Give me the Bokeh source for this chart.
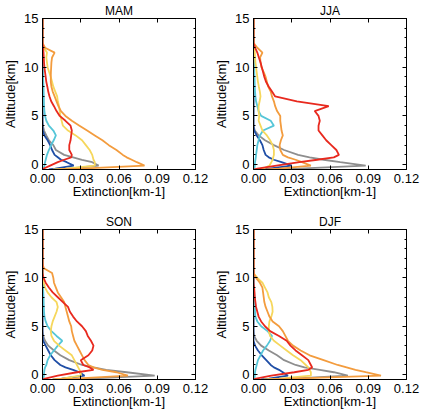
from bokeh.plotting import figure
from bokeh.layouts import gridplot
from bokeh.models import LinearAxis, FixedTicker, Range1d, NumeralTickFormatter, CustomJSTickFormatter
from bokeh.embed import file_html
from bokeh.resources import INLINE

# Altitude levels (km) shared by every profile
ALT = [-0.5, -0.4, -0.1, 0.25, 0.5, 0.75, 1.0, 1.5, 2.0, 2.5, 3.0, 3.5, 4.0, 4.5,
       5.0, 5.5, 6.0, 6.5, 7.0, 7.5, 8.0, 8.5, 9.0, 9.5, 10.0, 10.5, 11.0, 11.5,
       12.0, 12.5, 13.0, 13.5, 14.0, 14.5, 15.0]

SEASONS = ["MAM", "JJA", "SON", "DJF"]
X_TICKS = [0.0, 0.03, 0.06, 0.09, 0.12]
Y_TICKS = [0, 5, 10, 15]
Y_MINOR = [0, 1, 2, 3, 4, 5, 6, 7, 8, 9, 10, 11, 12, 13, 14, 15]

# Extinction profiles (km-1), one list per colour and season
MAM_GRAY = [0.010, 0.020, 0.044, 0.039, 0.031, 0.024, 0.017, 0.0105, 0.0085, 0.005, 0.003, 0.0012, 0.0003, 0.0,
            0.0, 0.0, 0.0, 0.0, 0.0, 0.0, 0.0, 0.0, 0.0, 0.0, 0.0, 0.0, 0.0, 0.0, 0.0, 0.0, 0.0, 0.0, 0.0, 0.0, 0.0]
MAM_BLUE = [0.005, 0.010, 0.0245, 0.019, 0.0145, 0.012, 0.0095, 0.0075, 0.006, 0.004, 0.0015, 0.0002, 0.0, 0.0,
            0.0, 0.0, 0.0, 0.0, 0.0, 0.0, 0.0, 0.0, 0.0, 0.0, 0.0, 0.0, 0.0, 0.0, 0.0, 0.0, 0.0, 0.0, 0.0, 0.0, 0.0]
MAM_CYAN = [0.0005, 0.001, 0.0015, 0.002, 0.0025, 0.003, 0.0035, 0.005, 0.0068, 0.0088, 0.0105, 0.0085, 0.005, 0.003,
            0.002, 0.0015, 0.0012, 0.0011, 0.001, 0.0009, 0.0008, 0.0006, 0.0005, 0.0002, 0.0, 0.0, 0.0, 0.0,
            0.0, 0.0, 0.0, 0.0, 0.0, 0.0, 0.0]
MAM_YELLOW = [0.008, 0.018, 0.041, 0.041, 0.040, 0.0395, 0.039, 0.037, 0.034, 0.031, 0.026, 0.020, 0.016, 0.015,
              0.014, 0.0135, 0.013, 0.012, 0.0115, 0.010, 0.0085, 0.0075, 0.0065, 0.0052, 0.004, 0.0035, 0.003, 0.0035,
              0.001, 0.0, 0.0, 0.0, 0.0, 0.0, 0.0]
MAM_ORANGE = [0.012, 0.030, 0.080, 0.074, 0.070, 0.066, 0.063, 0.058, 0.052, 0.047, 0.041, 0.035, 0.029, 0.023,
              0.018, 0.0145, 0.0125, 0.011, 0.0095, 0.008, 0.007, 0.0065, 0.0065, 0.0066, 0.0068, 0.007, 0.0075, 0.0095,
              0.002, 0.0, 0.0, 0.0, 0.0, 0.0, 0.0]
MAM_RED = [0.0, 0.001, 0.006, 0.012, 0.017, 0.0225, 0.023, 0.021, 0.021, 0.022, 0.0225, 0.023, 0.022, 0.018,
           0.0135, 0.011, 0.009, 0.0068, 0.0055, 0.0045, 0.0038, 0.003, 0.0025, 0.002, 0.0015, 0.0012, 0.001, 0.0008,
           0.0005, 0.0, 0.0, 0.0, 0.0, 0.0, 0.0]

JJA_GRAY = [0.015, 0.035, 0.088, 0.068, 0.055, 0.044, 0.035, 0.024, 0.016, 0.009, 0.004, 0.001, 0.0, 0.0,
            0.0, 0.0, 0.0, 0.0, 0.0, 0.0, 0.0, 0.0, 0.0, 0.0, 0.0, 0.0, 0.0, 0.0, 0.0, 0.0, 0.0, 0.0, 0.0, 0.0, 0.0]
JJA_BLUE = [0.006, 0.012, 0.030, 0.022, 0.016, 0.012, 0.0095, 0.008, 0.007, 0.005, 0.0025, 0.0005, 0.0, 0.0,
            0.0, 0.0, 0.0, 0.0, 0.0, 0.0, 0.0, 0.0, 0.0, 0.0, 0.0, 0.0, 0.0, 0.0, 0.0, 0.0, 0.0, 0.0, 0.0, 0.0, 0.0]
JJA_CYAN = [0.0005, 0.0008, 0.001, 0.0012, 0.0015, 0.0018, 0.002, 0.0025, 0.003, 0.004, 0.005, 0.0075, 0.016, 0.0135,
            0.006, 0.004, 0.003, 0.002, 0.0015, 0.0012, 0.001, 0.0009, 0.0008, 0.0006, 0.0005, 0.0003, 0.0001, 0.0,
            0.0, 0.0, 0.0, 0.0, 0.0, 0.0, 0.0]
JJA_YELLOW = [0.004, 0.008, 0.0125, 0.014, 0.015, 0.0155, 0.016, 0.016, 0.015, 0.013, 0.0105, 0.007, 0.0055, 0.004,
              0.0045, 0.004, 0.004, 0.0048, 0.0055, 0.005, 0.0042, 0.0035, 0.003, 0.0025, 0.002, 0.0015, 0.0012, 0.001,
              0.0003, 0.0, 0.0, 0.0, 0.0, 0.0, 0.0]
JJA_ORANGE = [0.010, 0.020, 0.045, 0.038, 0.033, 0.027, 0.023, 0.021, 0.0205, 0.0215, 0.023, 0.022, 0.0215, 0.021,
              0.021, 0.0185, 0.017, 0.016, 0.0145, 0.0135, 0.0115, 0.0105, 0.0095, 0.008, 0.0062, 0.0055, 0.0052, 0.007,
              0.003, 0.0, 0.0, 0.0, 0.0, 0.0, 0.0]
JJA_RED = [0.0, 0.003, 0.018, 0.036, 0.050, 0.063, 0.067, 0.065, 0.061, 0.057, 0.054, 0.051, 0.051, 0.052,
           0.051, 0.048, 0.059, 0.034, 0.017, 0.0145, 0.012, 0.0098, 0.0085, 0.0075, 0.0065, 0.0055, 0.0042, 0.003,
           0.0012, 0.0, 0.0, 0.0, 0.0, 0.0, 0.0]

SON_GRAY = [0.012, 0.035, 0.088, 0.066, 0.050, 0.040, 0.031, 0.021, 0.014, 0.009, 0.0045, 0.002, 0.0005, 0.0,
            0.0, 0.0, 0.0, 0.0, 0.0, 0.0, 0.0, 0.0, 0.0, 0.0, 0.0, 0.0, 0.0, 0.0, 0.0, 0.0, 0.0, 0.0, 0.0, 0.0, 0.0]
SON_BLUE = [0.008, 0.015, 0.033, 0.029, 0.024, 0.018, 0.014, 0.0095, 0.0065, 0.0045, 0.0025, 0.0005, 0.0, 0.0,
            0.0, 0.0, 0.0, 0.0, 0.0, 0.0, 0.0, 0.0, 0.0, 0.0, 0.0, 0.0, 0.0, 0.0, 0.0, 0.0, 0.0, 0.0, 0.0, 0.0, 0.0]
SON_CYAN = [0.0005, 0.0008, 0.001, 0.0013, 0.0015, 0.002, 0.003, 0.004, 0.006, 0.009, 0.012, 0.0155, 0.011, 0.007,
            0.004, 0.0025, 0.0015, 0.0012, 0.001, 0.0009, 0.0008, 0.0006, 0.0005, 0.0003, 0.0002, 0.0, 0.0, 0.0,
            0.0, 0.0, 0.0, 0.0, 0.0, 0.0, 0.0]
SON_YELLOW = [0.008, 0.015, 0.030, 0.030, 0.029, 0.028, 0.027, 0.025, 0.023, 0.018, 0.013, 0.009, 0.007, 0.0065,
              0.007, 0.008, 0.0095, 0.011, 0.012, 0.011, 0.007, 0.004, 0.002, 0.001, 0.0005, 0.0, 0.0, 0.0,
              0.0, 0.0, 0.0, 0.0, 0.0, 0.0, 0.0]
SON_ORANGE = [0.010, 0.025, 0.067, 0.058, 0.047, 0.040, 0.036, 0.033, 0.031, 0.029, 0.027, 0.025, 0.024, 0.023,
              0.0225, 0.021, 0.020, 0.019, 0.018, 0.017, 0.0145, 0.012, 0.0105, 0.009, 0.0085, 0.0075, 0.001, 0.0,
              0.0, 0.0, 0.0, 0.0, 0.0, 0.0, 0.0]
SON_RED = [0.0, 0.002, 0.012, 0.027, 0.040, 0.037, 0.032, 0.030, 0.036, 0.039, 0.040, 0.038, 0.0355, 0.034,
           0.031, 0.027, 0.024, 0.0215, 0.020, 0.016, 0.012, 0.008, 0.005, 0.0025, 0.0008, 0.0, 0.0, 0.0,
           0.0, 0.0, 0.0, 0.0, 0.0, 0.0, 0.0]

DJF_GRAY = [0.010, 0.030, 0.074, 0.063, 0.052, 0.040, 0.033, 0.024, 0.0185, 0.012, 0.006, 0.0025, 0.0005, 0.0,
            0.0, 0.0, 0.0, 0.0, 0.0, 0.0, 0.0, 0.0, 0.0, 0.0, 0.0, 0.0, 0.0, 0.0, 0.0, 0.0, 0.0, 0.0, 0.0, 0.0, 0.0]
DJF_BLUE = [0.006, 0.012, 0.027, 0.023, 0.020, 0.016, 0.0135, 0.010, 0.0065, 0.0035, 0.0012, 0.0, 0.0, 0.0,
            0.0, 0.0, 0.0, 0.0, 0.0, 0.0, 0.0, 0.0, 0.0, 0.0, 0.0, 0.0, 0.0, 0.0, 0.0, 0.0, 0.0, 0.0, 0.0, 0.0, 0.0]
DJF_CYAN = [0.0005, 0.0008, 0.001, 0.0012, 0.0015, 0.002, 0.0025, 0.0035, 0.0055, 0.0075, 0.0105, 0.013, 0.0145, 0.011,
            0.006, 0.003, 0.0015, 0.0012, 0.001, 0.0009, 0.0008, 0.0005, 0.0003, 0.0, 0.0, 0.0, 0.0, 0.0,
            0.0, 0.0, 0.0, 0.0, 0.0, 0.0, 0.0]
DJF_YELLOW = [0.008, 0.020, 0.045, 0.045, 0.044, 0.043, 0.041, 0.037, 0.031, 0.026, 0.021, 0.016, 0.013, 0.012,
              0.012, 0.0125, 0.014, 0.015, 0.0148, 0.014, 0.012, 0.011, 0.009, 0.007, 0.003, 0.0, 0.0, 0.0,
              0.0, 0.0, 0.0, 0.0, 0.0, 0.0, 0.0]
DJF_ORANGE = [0.012, 0.030, 0.100, 0.088, 0.080, 0.073, 0.066, 0.055, 0.044, 0.037, 0.031, 0.027, 0.025, 0.023,
              0.020, 0.015, 0.0125, 0.011, 0.0095, 0.0085, 0.008, 0.0075, 0.007, 0.005, 0.002, 0.0, 0.0, 0.0,
              0.0, 0.0, 0.0, 0.0, 0.0, 0.0, 0.0]
DJF_RED = [0.0, 0.002, 0.014, 0.032, 0.043, 0.046, 0.045, 0.043, 0.038, 0.033, 0.029, 0.026, 0.020, 0.013,
           0.009, 0.006, 0.004, 0.003, 0.002, 0.0015, 0.001, 0.0008, 0.0005, 0.0, 0.0, 0.0, 0.0, 0.0,
           0.0, 0.0, 0.0, 0.0, 0.0, 0.0, 0.0]

PROFILES = {
    "MAM": [MAM_GRAY, MAM_BLUE, MAM_CYAN, MAM_YELLOW, MAM_ORANGE, MAM_RED],
    "JJA": [JJA_GRAY, JJA_BLUE, JJA_CYAN, JJA_YELLOW, JJA_ORANGE, JJA_RED],
    "SON": [SON_GRAY, SON_BLUE, SON_CYAN, SON_YELLOW, SON_ORANGE, SON_RED],
    "DJF": [DJF_GRAY, DJF_BLUE, DJF_CYAN, DJF_YELLOW, DJF_ORANGE, DJF_RED],
}
COLORS = ["#8e8e8e", "#1f4ea6", "#55c6d8", "#f6d75c", "#f39c3e", "#e8291e"]

FONT = "Liberation Sans"


def style_axis(ax, ticks, minor):
    ax.ticker = FixedTicker(ticks=ticks, minor_ticks=minor)
    ax.axis_line_color = "black"
    ax.major_tick_line_color = "black"
    ax.minor_tick_line_color = "black"
    ax.major_tick_in = 4
    ax.major_tick_out = 0
    ax.minor_tick_in = 2
    ax.minor_tick_out = 0
    ax.major_label_standoff = 4
    ax.major_label_text_font = FONT
    ax.major_label_text_font_size = "13px"
    ax.major_label_text_color = "black"
    ax.axis_label_text_font = FONT
    ax.axis_label_text_font_size = "13px"
    ax.axis_label_text_font_style = "normal"
    ax.axis_label_text_color = "black"


def tick_only_axis(ticks, minor):
    # mirror axis on the opposite side: tick marks, no labels
    ax = LinearAxis(formatter=CustomJSTickFormatter(code="return ''"))
    style_axis(ax, ticks, minor)
    ax.major_label_standoff = 0
    return ax


def make_panel(season, top_row, left_col):
    p = figure(
        width=211, height=205 if top_row else 206,
        x_range=Range1d(0.0, 0.12), y_range=Range1d(-0.5, 15.0),
        output_backend="svg", toolbar_location=None,
        x_axis_location=None, y_axis_location=None,
        min_border_left=40 if left_col else 41, min_border_right=16,
        min_border_top=18 if top_row else 24, min_border_bottom=36 if top_row else 31,
    )
    p.title.text = season
    p.title.align = "center"
    p.title.text_font = FONT
    p.title.text_font_size = "12px"
    p.title.text_font_style = "normal"
    p.title.text_color = "black"
    p.title.standoff = 2
    p.xgrid.visible = False
    p.ygrid.visible = False
    p.outline_line_color = "black"
    p.outline_line_width = 1
    p.background_fill_color = "white"
    p.border_fill_color = "white"

    xb = LinearAxis(formatter=NumeralTickFormatter(format="0.00"), axis_label="Extinction[km-1]")
    style_axis(xb, X_TICKS, [])
    xb.axis_label_standoff = -2
    p.add_layout(xb, "below")
    p.add_layout(tick_only_axis(X_TICKS, []), "above")

    yl = LinearAxis(axis_label="Altitude[km]")
    style_axis(yl, Y_TICKS, Y_MINOR)
    yl.axis_label_standoff = 3
    p.add_layout(yl, "left")
    p.add_layout(tick_only_axis(Y_TICKS, Y_MINOR), "right")

    for vals, col in zip(PROFILES[season], COLORS):
        p.line(vals, ALT, line_color=col, line_width=1.8)
    return p


panels = [make_panel(s, i < 2, i % 2 == 0) for i, s in enumerate(SEASONS)]
grid = gridplot([[panels[0], panels[1]], [panels[2], panels[3]]], toolbar_location=None)

open("out.html", "w").write(file_html(grid, INLINE))
